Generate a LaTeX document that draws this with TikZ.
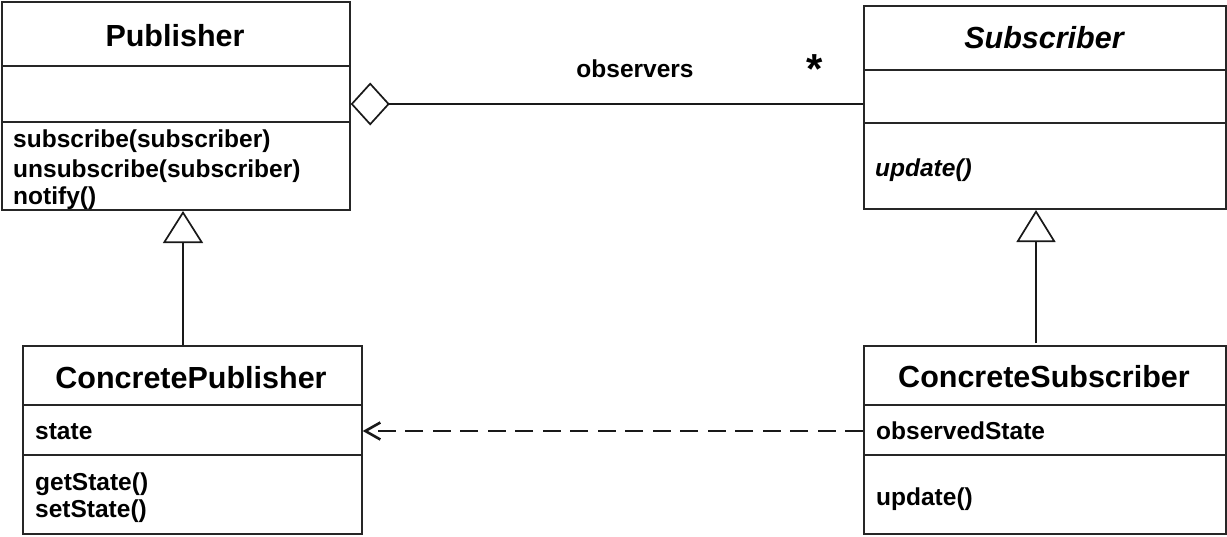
\documentclass[tikz,border=0pt]{standalone}
\usepackage{fontspec}
\setmainfont{Liberation Sans}
\usetikzlibrary{arrows.meta}
\begin{document}
\begin{tikzpicture}[x=1pt,y=-1pt,
  umlbox/.style={draw=black!85, line width=1.7pt, rectangle, inner sep=0pt, anchor=north west},
  divider/.style={draw=black!85, line width=1.7pt},
  title/.style={font=\fontsize{30.5}{36}\selectfont\bfseries, inner sep=0pt, anchor=base},
  member/.style={font=\fontsize{24.5}{29}\selectfont\bfseries, inner sep=0pt, anchor=base west},
  conn/.style={draw=black!90, line width=1.7pt}]
\useasboundingbox (0,0) rectangle (1227,536);

% boxes
\node[umlbox, minimum width=348pt, minimum height=208pt] (pub) at (1,1) {};
\node[umlbox, minimum width=362pt, minimum height=203pt] (sub) at (863,5) {};
\node[umlbox, minimum width=339pt, minimum height=188pt] (cpub) at (22,345) {};
\node[umlbox, minimum width=362pt, minimum height=188pt] (csub) at (863,345) {};

% dividers
\draw[divider] (1,66) -- (349,66);
\draw[divider] (1,122) -- (349,122);
\draw[divider] (863,70) -- (1225,70);
\draw[divider] (863,123) -- (1225,123);
\draw[divider] (22,405) -- (361,405);
\draw[divider] (22,455) -- (361,455);
\draw[divider] (863,405) -- (1225,405);
\draw[divider] (863,455) -- (1225,455);

% texts
\node[title] (tpub) at (175,46) {Publisher};
\node[member] (m1) at (13,147) {subscribe(subscriber)};
\node[member] (m2) at (13,177) {unsubscribe(subscriber)};
\node[member] (m3) at (13,204) {notify()};

\node[title, font=\fontsize{30.5}{36}\selectfont\bfseries\itshape] (tsub) at (1044,48) {Subscriber};
\node[member, font=\fontsize{24.5}{29}\selectfont\bfseries\itshape] (m4) at (875,176) {update()};

\node[title] (tcpub) at (191,388) {ConcretePublisher};
\node[member] (m5) at (35,439) {state};
\node[member] (m6) at (35,490) {getState()};
\node[member] (m7) at (35,517) {setState()};

\node[title] (tcsub) at (1044,387) {ConcreteSubscriber};
\node[member] (m8) at (876,439) {observedState};
\node[member] (m9) at (876,505) {update()};

\node[font=\fontsize{24.5}{29}\selectfont\bfseries, inner sep=0pt, anchor=base] (obs) at (635,77) {observers};
\node[font=\fontsize{42}{42}\selectfont\bfseries, inner sep=0pt] (star) at (815,69) {*};

% connectors
\coordinate (pubB) at (183,211);
\coordinate (cpubT) at (183,345);
\coordinate (subB) at (1036,210);
\coordinate (csubT) at (1036,343);
\draw[conn, -{Triangle[open,length=32pt,width=40pt]}] (cpubT) -- (pubB);
\draw[conn, -{Triangle[open,length=32pt,width=39pt]}] (csubT) -- (subB);

\draw[conn, {Diamond[open,length=39pt,width=43pt]}-] (pub.east |- 0,104) -- (sub.west |- 0,104);

\draw[conn, line width=1.9pt, dash pattern=on 18pt off 9.5pt, -{Straight Barb[length=15pt,width=17pt,line width=2.6pt]}] (csub.west |- 0,431) -- (cpub.east |- 0,431);
\end{tikzpicture}
\end{document}
